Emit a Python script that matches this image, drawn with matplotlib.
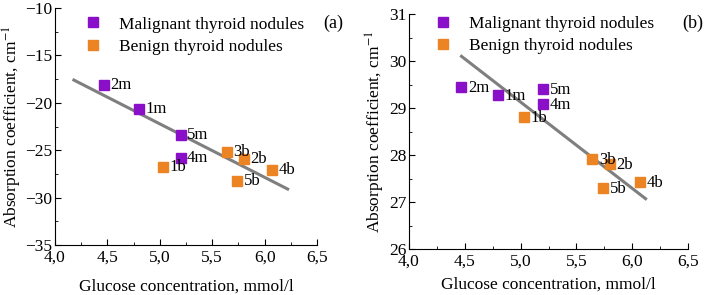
import matplotlib
matplotlib.use('Agg')
import matplotlib.pyplot as plt
from matplotlib.ticker import MultipleLocator
import numpy as np

plt.rcParams['font.family'] = ['Liberation Serif', 'DejaVu Serif']
plt.rcParams['mathtext.fontset'] = 'stix'

# malignant / benign samples, glucose concentration (mmol/l)
mal_names = ['1m', '2m', '4m', '5m']
mal_glu = [4.80, 4.47, 5.20, 5.20]
ben_names = ['1b', '2b', '3b', '4b', '5b']
ben_glu = [5.03, 5.80, 5.64, 6.07, 5.74]

# panel (a) absorption coefficient
mal_a = [-20.7, -18.1, -25.8, -23.4]
ben_a = [-26.8, -25.9, -25.2, -27.1, -28.3]
fit_a_x = [4.18, 6.22]
fit_a_y = [-17.6, -29.1]

# panel (b) absorption coefficient
mal_b = [29.28, 29.45, 29.08, 29.40]
ben_b = [28.80, 27.80, 27.92, 27.43, 27.30]
fit_b_x = [4.47, 6.12]
fit_b_y = [30.10, 27.07]

purple = '#8a0fc8'
orange = '#ec8424'

W, H = 708, 295
fig = plt.figure(figsize=(W/100, H/100), dpi=100)
ax_a = fig.add_axes([55/W, 1-245/H, (317-55)/W, (245-8)/H])
ax_b = fig.add_axes([409/W, 1-249/H, (688-409)/W, (249-14)/H])

def panel(ax, mal_y, ben_y, fx, fy, ylim, ystep, leg_anchor, dx, dy, xpad):
  ax.plot(fx, fy, color='#7f7f7f', lw=2.2, zorder=1)
  ax.plot(mal_glu, mal_y, 's', color=purple, ms=6.5, ls='none',
          label='Malignant thyroid nodules', zorder=2)
  ax.plot(ben_glu, ben_y, 's', color=orange, ms=6.5, ls='none',
          label='Benign thyroid nodules', zorder=2)
  for n, gx, gy in zip(mal_names, mal_glu, mal_y):
    ax.text(gx+dx, gy+dy, n, fontsize=12, va='center', ha='left')
  for n, gx, gy in zip(ben_names, ben_glu, ben_y):
    ax.text(gx+dx, gy+dy, n, fontsize=12, va='center', ha='left')
  ax.set_xlim(4.0, 6.5)
  ax.set_ylim(*ylim)
  ax.xaxis.set_major_locator(MultipleLocator(0.5))
  ax.xaxis.set_minor_locator(MultipleLocator(0.25))
  ax.yaxis.set_major_locator(MultipleLocator(ystep))
  ax.yaxis.set_minor_locator(MultipleLocator(ystep/2))
  ax.xaxis.set_major_formatter(lambda v, p: ('%.1f' % v).replace('.', ','))
  ax.tick_params(which='both', direction='in', labelsize=12.5)
  ax.tick_params(axis='x', pad=3.5)
  ax.tick_params(axis='y', pad=2)
  ax.tick_params(which='major', length=4)
  ax.tick_params(which='minor', length=2.5)
  ax.spines['top'].set_visible(False)
  ax.spines['right'].set_visible(False)
  ax.set_xlabel('Glucose concentration, mmol/l', fontsize=12.5, labelpad=xpad)
  ax.set_ylabel('Absorption coefficient, cm$^{-1}$', fontsize=12.5, labelpad=1)
  ax.legend(loc='upper left', bbox_to_anchor=leg_anchor, frameon=False,
            fontsize=12.5, handletextpad=0.9, borderaxespad=0, labelspacing=0.35,
            handlelength=1.2)

panel(ax_a, mal_a, ben_a, fit_a_x, fit_a_y, (-35, -10), 5, (0.08, 0.994), 0.06, 0.0, 9)
panel(ax_b, mal_b, ben_b, fit_b_x, fit_b_y, (26, 31), 1, (0.058, 1.023), 0.06, -0.02, 5)

fig.text(333/W, 1-23/H, '(a)', fontsize=13, ha='center', va='center')
fig.text(693/W, 1-23/H, '(b)', fontsize=13, ha='center', va='center')

fig.savefig('out.png', dpi=100)
